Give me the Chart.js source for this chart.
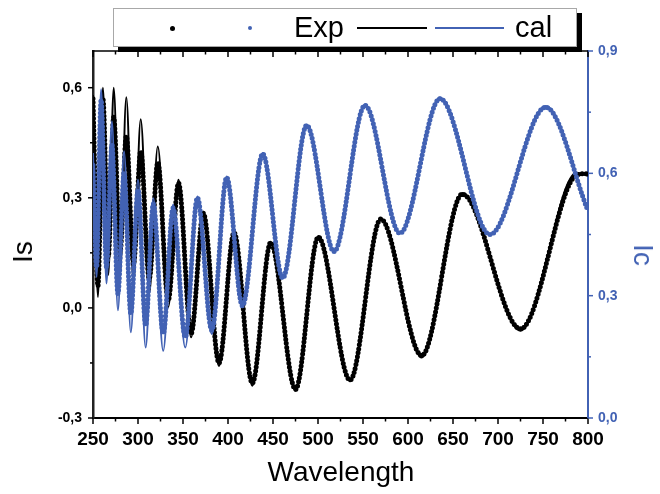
<!DOCTYPE html>
<html><head><meta charset="utf-8">
<script src="https://cdn.jsdelivr.net/npm/chart.js@4.4.0/dist/chart.umd.min.js"></script>
<style>
html,body{margin:0;padding:0;background:#fff;}
#wrap{position:relative;width:660px;height:494px;overflow:hidden;font-family:'Liberation Sans',Arial,sans-serif;}
#c{position:absolute;left:0;top:0;}
.abs{position:absolute;}
.legend{left:113px;top:8px;width:462px;height:37px;border:1px solid #a8a8a8;background:#fff;box-shadow:5px 5px 0 0 #000;}
.ttl{font-size:28px;line-height:1;white-space:nowrap;transform-origin:center center;}
</style></head>
<body>
<div id="wrap">
<canvas id="c" width="660" height="494"></canvas>
<div class="abs legend"></div>
<div class="abs" style="left:169.5px;top:25.5px;width:5px;height:5px;border-radius:50%;background:#000;"></div>
<div class="abs" style="left:248px;top:26px;width:4px;height:4px;border-radius:50%;background:#4262b4;"></div>
<div class="abs" style="left:294px;top:12.5px;font-size:29px;line-height:29px;color:#000;">Exp</div>
<div class="abs" style="left:357px;top:27px;width:70px;height:1.5px;background:#000;"></div>
<div class="abs" style="left:435px;top:27px;width:69px;height:1.5px;background:#4262b4;"></div>
<div class="abs" style="left:515px;top:12.5px;font-size:29px;line-height:29px;color:#000;">cal</div>
<div class="abs ttl" style="left:23px;top:252px;transform:translate(-50%,-50%) rotate(-90deg);color:#000;">Is</div>
<div class="abs ttl" style="left:643px;top:255px;transform:translate(-50%,-50%) rotate(90deg);color:#4262b4;">Ic</div>
<div class="abs ttl" style="left:341px;top:472px;transform:translate(-50%,-50%);color:#000;">Wavelength</div>
</div>
<script>
// ---- data ----
const isX   = [250, 255.5, 261, 267, 273, 280, 287, 295, 303, 312.5, 322, 333.5, 345, 359, 372.6, 390, 406.7, 427, 447.4, 475, 500.3, 535.6, 569.7, 615.2, 660.3, 725, 787.4, 800];
const isCal = [0.58, 0.03, 0.60, 0.09, 0.60, 0.09, 0.574, 0.07, 0.514, 0.04, 0.44, 0.002, 0.349, -0.08, 0.262, -0.158, 0.208, -0.212, 0.18, -0.226, 0.196, -0.2, 0.244, -0.135, 0.313, -0.062, 0.368, 0.36];
const isExp = [0.57, 0.06, 0.57, 0.14, 0.52, 0.15, 0.468, 0.12, 0.427, 0.08, 0.396, 0.02, 0.34, -0.07, 0.258, -0.15, 0.205, -0.205, 0.178, -0.222, 0.193, -0.197, 0.242, -0.13, 0.31, -0.057, 0.362, 0.366];
const icX   = [250, 254, 259, 265, 271, 277.7, 284.5, 292, 300, 308.5, 317, 328, 339, 352.5, 366, 382, 398.5, 416, 438.6, 460.8, 487.4, 517.8, 552.2, 591, 635.6, 691, 753, 800];
const icCal = [0.65, 0.346, 0.806, 0.33, 0.728, 0.264, 0.654, 0.21, 0.584, 0.173, 0.539, 0.165, 0.523, 0.173, 0.543, 0.206, 0.592, 0.272, 0.65, 0.342, 0.72, 0.408, 0.769, 0.453, 0.786, 0.449, 0.765, 0.51];
const icExp = [0.62, 0.37, 0.78, 0.37, 0.67, 0.305, 0.60, 0.256, 0.56, 0.227, 0.525, 0.207, 0.515, 0.198, 0.54, 0.215, 0.59, 0.275, 0.648, 0.343, 0.718, 0.408, 0.767, 0.453, 0.783, 0.45, 0.762, 0.508];
const xTicks  = [250, 300, 350, 400, 450, 500, 550, 600, 650, 700, 750, 800];
const isTicks = [-0.3, 0, 0.3, 0.6];
const icTicks = [0, 0.3, 0.6, 0.9];
const xMinor  = [275, 325, 375, 425, 475, 525, 575, 625, 675, 725, 775];
const isMinor = [-0.15, 0.15, 0.45];
const icMinor = [0.15, 0.45, 0.75];

const BLUE = '#4262b4';
const pts = (xs, ys) => xs.map((x, i) => ({x: x, y: ys[i]}));
const fmt = v => (Math.abs(v) < 1e-9 ? 0 : v).toFixed(1).replace('.', ',');
const FONT = "'Liberation Sans', Arial, sans-serif";

const tickPlugin = {
  id: 'originTicks',
  afterDraw(chart) {
    const ctx = chart.ctx, a = chart.chartArea;
    const xs = chart.scales.x, ys = chart.scales.y, y2 = chart.scales.y2;
    ctx.save();
    ctx.lineWidth = 1.5;
    ctx.strokeStyle = '#000';
    ctx.beginPath(); ctx.moveTo(a.left - 1, a.top); ctx.lineTo(a.right, a.top); ctx.stroke();
    const drawX = (vals, len) => vals.forEach(v => {
      const p = xs.getPixelForValue(v);
      ctx.beginPath(); ctx.moveTo(p, a.bottom); ctx.lineTo(p, a.bottom + len); ctx.stroke();
      ctx.beginPath(); ctx.moveTo(p, a.top); ctx.lineTo(p, a.top + len); ctx.stroke();
    });
    drawX(xTicks, 6); drawX(xMinor, 3.5);
    const drawL = (vals, len) => vals.forEach(v => {
      const p = ys.getPixelForValue(v);
      ctx.beginPath(); ctx.moveTo(a.left, p); ctx.lineTo(a.left - len, p); ctx.stroke();
    });
    drawL(isTicks, 5); drawL(isMinor, 3);
    ctx.strokeStyle = BLUE;
    const drawR = (vals, len) => vals.forEach(v => {
      const p = y2.getPixelForValue(v);
      ctx.beginPath(); ctx.moveTo(a.right, p); ctx.lineTo(a.right + len, p); ctx.stroke();
    });
    drawR(icTicks, 5); drawR(icMinor, 3);
    ctx.restore();
  }
};

new Chart(document.getElementById('c'), {
  type: 'line',
  data: {
    datasets: [
      {label: 'Ic Exp', data: pts(icX, icExp), yAxisID: 'y2', borderColor: BLUE, borderWidth: 5, borderDash: [0, 4], borderCapStyle: 'round', pointRadius: 0, cubicInterpolationMode: 'monotone', fill: false},
      {label: 'Ic cal', data: pts(icX, icCal), yAxisID: 'y2', borderColor: BLUE, borderWidth: 2, pointRadius: 0, cubicInterpolationMode: 'monotone', fill: false},
      {label: 'Is Exp', data: pts(isX, isExp), yAxisID: 'y', borderColor: '#000', borderWidth: 5, borderDash: [0, 4], borderCapStyle: 'round', pointRadius: 0, cubicInterpolationMode: 'monotone', fill: false},
      {label: 'Is cal', data: pts(isX, isCal), yAxisID: 'y', borderColor: '#000', borderWidth: 2, pointRadius: 0, cubicInterpolationMode: 'monotone', fill: false}
    ]
  },
  options: {
    responsive: false,
    animation: false,
    devicePixelRatio: 1,
    layout: {padding: {top: 51, left: 0, right: 0, bottom: 0}},
    plugins: {legend: {display: false}, tooltip: {enabled: false}, title: {display: false}},
    scales: {
      x: {
        type: 'linear', min: 250, max: 800, position: 'bottom',
        afterBuildTicks: s => { s.ticks = xTicks.map(v => ({value: v})); },
        afterFit: s => { s.height = 76; },
        grid: {display: false, drawTicks: false},
        border: {display: true, color: '#000', width: 2},
        ticks: {padding: 10, color: '#000', font: {family: FONT, size: 19, weight: 'bold'}, maxRotation: 0, autoSkip: false, callback: v => String(v)}
      },
      y: {
        type: 'linear', min: -0.3, max: 0.7, position: 'left',
        afterBuildTicks: s => { s.ticks = isTicks.map(v => ({value: v})); },
        afterFit: s => { s.width = 93; },
        grid: {display: false, drawTicks: false},
        border: {display: true, color: '#222', width: 2.5},
        ticks: {padding: 11, color: '#000', font: {family: FONT, size: 14, weight: 'bold'}, callback: v => fmt(v)}
      },
      y2: {
        type: 'linear', min: 0, max: 0.9, position: 'right',
        afterBuildTicks: s => { s.ticks = icTicks.map(v => ({value: v})); },
        afterFit: s => { s.width = 72; },
        grid: {display: false, drawTicks: false},
        border: {display: true, color: BLUE, width: 2},
        ticks: {padding: 10, color: BLUE, font: {family: FONT, size: 14, weight: 'bold'}, callback: v => fmt(v)}
      }
    }
  },
  plugins: [tickPlugin]
});
</script>
</body></html>
